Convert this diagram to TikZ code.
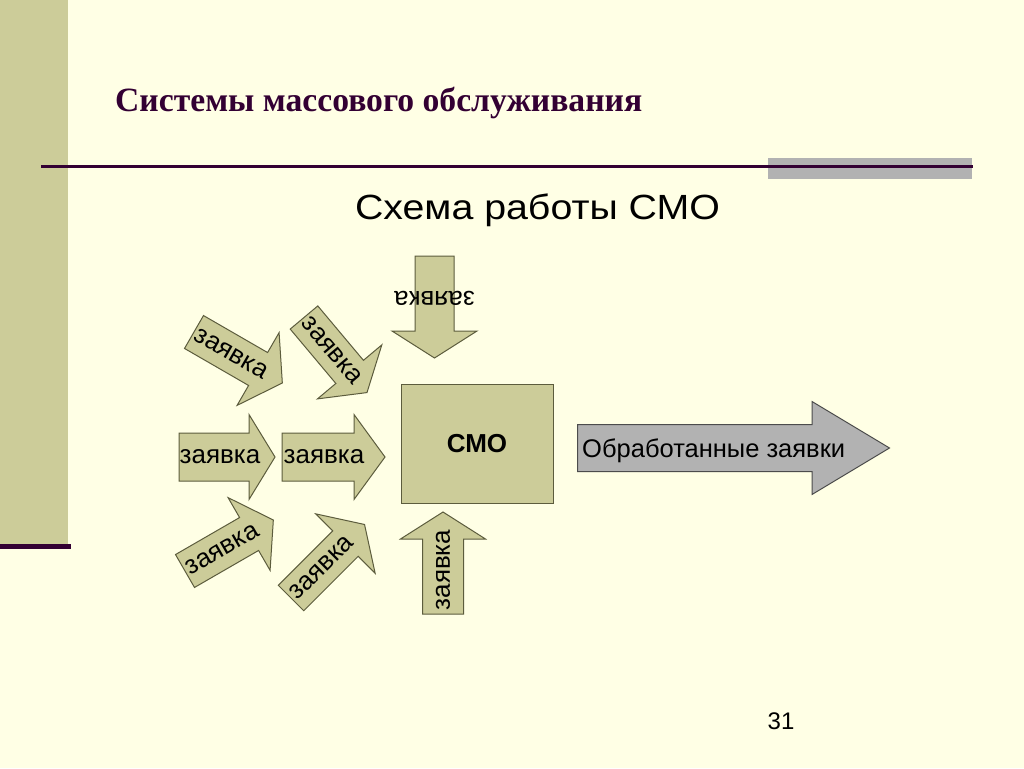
\documentclass[tikz,border=0pt]{standalone}
\usepackage{graphicx}
\usepackage{fontspec}
\setmainfont{Liberation Sans}
\newfontfamily\titlefont{Liberation Serif}

\definecolor{cream}{HTML}{FFFFE5}
\definecolor{khaki}{HTML}{CCCC99}
\definecolor{plum}{HTML}{330033}
\definecolor{olivedge}{HTML}{5C5C3D}
\definecolor{bargray}{HTML}{B2B2B2}

% block arrow pointing along +x: length, half body, half head, head length
\newcommand{\blockarrow}[4]{(0,-#2) -- ({#1-#4},-#2) -- ({#1-#4},-#3) -- (#1,0) -- ({#1-#4},#3) -- ({#1-#4},#2) -- (0,#2) -- cycle}

\begin{document}
\begin{tikzpicture}[x=1pt, y=-1pt,
  reqshape/.style={fill=khaki, draw=olivedge, line width=1pt, line join=miter},
  reqtext/.style={font=\fontsize{26}{26}\selectfont, inner sep=0pt},
  outshape/.style={fill=bargray, draw=black!70, line width=1pt}]
  \useasboundingbox (0,0) rectangle (1024,768);
  % Slide background and left band.
  \fill[cream] (0,0) rectangle (1024,768);
  \fill[khaki] (0,0) rectangle (68,544);
  \fill[plum] (0,544) rectangle (71,549);
  % Title and rule.
  \node[anchor=base west, inner sep=0pt, text=plum] (title) at (115,111)
    {\resizebox{527pt}{\height}{\titlefont\bfseries\fontsize{34}{34}\selectfont Системы массового обслуживания}};
  \fill[bargray] (768,158) rectangle (972,179);
  \draw[plum, line width=2.5pt] (41,166.5) -- (973,166.5);
  \node[anchor=base, inner sep=0pt] (subtitle) at (537.5,219)
    {\resizebox{365pt}{\height}{\fontsize{35}{35}\selectfont Схема работы СМО}};
  % Incoming requests, left column.
  \begin{scope}[shift={(194,332)}, rotate=-30]
    \draw[reqshape] \blockarrow{102}{19}{42}{28};
    \node[reqtext, rotate=-30] (req1) at (43,0) {заявка};
  \end{scope}
  \begin{scope}[shift={(179,457)}]
    \draw[reqshape] \blockarrow{96}{24}{42.5}{26};
    \node[reqtext] (req2) at (41,0) {заявка};
  \end{scope}
  \begin{scope}[shift={(185,571)}, rotate=30]
    \draw[reqshape] \blockarrow{102}{19}{42}{28};
    \node[reqtext, rotate=30] (req3) at (43,0) {заявка};
  \end{scope}
  % Incoming requests, right column.
  \begin{scope}[shift={(304,317.5)}, rotate=-50]
    \draw[reqshape] \blockarrow{98}{18}{42}{27};
    \node[reqtext, rotate=-50] (req4) at (43,0) {заявка};
  \end{scope}
  \begin{scope}[shift={(282,457)}]
    \draw[reqshape] \blockarrow{103}{24}{42.5}{31};
    \node[reqtext] (req5) at (42,0) {заявка};
  \end{scope}
  \begin{scope}[shift={(291,598)}, rotate=45]
    \draw[reqshape] \blockarrow{104}{18}{42}{27};
    \node[reqtext, rotate=45] (req6) at (43,0) {заявка};
  \end{scope}
  % From above and from below.
  \begin{scope}[shift={(434.5,256)}, rotate=-90]
    \draw[reqshape] \blockarrow{102}{19.5}{42.5}{27};
    \node[reqtext, rotate=180] (req7) at (42,0) {заявка};
  \end{scope}
  \begin{scope}[shift={(443,614)}, rotate=90]
    \draw[reqshape] \blockarrow{102}{20.5}{42.5}{27};
    \node[reqtext, rotate=90] (req8) at (44,0) {заявка};
  \end{scope}
  % The system and its output.
  \node[fill=khaki, draw=olivedge, line width=1pt, minimum width=152pt, minimum height=119pt,
    font=\fontsize{26}{26}\selectfont\bfseries] (smo) at (477,444) {СМО};
  \begin{scope}[shift={(577.5,448)}]
    \draw[outshape] \blockarrow{312}{23.5}{46.5}{77.5};
  \end{scope}
  \node[anchor=base west, inner sep=0pt, font=\fontsize{25.5}{25.5}\selectfont] (out) at (582,457) {Обработанные заявки};
  \node[anchor=base, inner sep=0pt, font=\fontsize{24}{24}\selectfont] (pagenum) at (781,729) {31};
\end{tikzpicture}
\end{document}
